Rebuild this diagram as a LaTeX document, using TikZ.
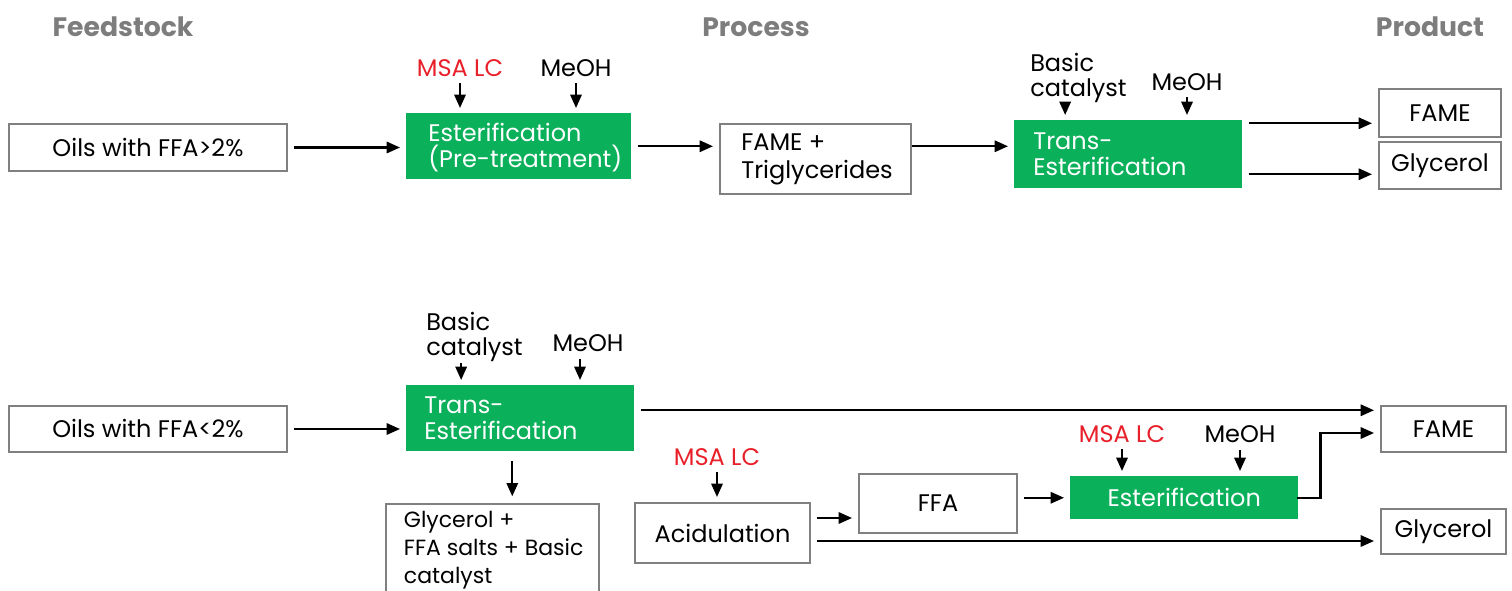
\documentclass[tikz,border=0pt]{standalone}
\usepackage{fontspec}
\setmainfont{Poppins}
\usetikzlibrary{arrows.meta}
\definecolor{procgreen}{RGB}{10,176,90}
\definecolor{msared}{RGB}{232,32,42}
\definecolor{hdrgray}{RGB}{125,125,125}
\definecolor{boxgray}{RGB}{128,128,128}
\tikzset{
  hdr/.style={font=\fontsize{20}{24}\selectfont\bfseries, text=hdrgray, inner sep=0},
  lbl/.style={font=\fontsize{18}{18.5}\selectfont, inner sep=0},
  redlbl/.style={lbl, text=msared},
  wbox/.style={draw=boxgray, line width=1.5pt, fill=white, inner sep=0, anchor=north west,
    font=\fontsize{18}{20.5}\selectfont},
  gbox/.style={fill=procgreen, text=white, inner sep=0, anchor=north west,
    font=\fontsize{18}{19}\selectfont},
  intxt/.style={inner sep=0, anchor=west, align=left, font=\fontsize{18}{19}\selectfont},
  gtxt/.style={intxt, text=white},
  arr/.style={-{Triangle[length=10pt,width=8.5pt]}, line width=1.6pt,
    shorten <=4.5pt, shorten >=4.5pt},
  darr/.style={-{Triangle[length=10pt,width=8.5pt]}, line width=1.6pt,
    shorten <=5pt, shorten >=3.75pt},
}
\begin{document}
\begin{tikzpicture}[x=0.75pt,y=-0.75pt]
\useasboundingbox (0,0) rectangle (1512,591);

% headers
\node[hdr] (hfeed) at (123,27) {Feedstock};
\node[hdr] (hproc) at (756,27) {Process};
\node[hdr] (hprod) at (1430,27) {Product};

% ---------- top row ----------
\node[wbox, minimum width=208.5pt, minimum height=35.25pt] (oilA) at (8,123) {Oils with FFA>2\%};
\node[gbox, minimum width=168.75pt, minimum height=49.5pt] (estA) at (406,113) {};
\node[gtxt] (estAt) at ([xshift=16.5pt,yshift=-1pt]estA.west) {Esterification\\(Pre-treatment)};
\node[wbox, minimum width=143.25pt, minimum height=52.5pt] (fameTri) at (719,123) {};
\node[intxt, font=\fontsize{18}{21}\selectfont] (fameTrit) at ([xshift=16.5pt]fameTri.west) {FAME +\\Triglycerides};
\node[gbox, minimum width=171pt, minimum height=51pt] (transA) at (1014,120) {};
\node[gtxt] (transAt) at ([xshift=14.25pt]transA.west) {Trans-\\Esterification};
\node[wbox, minimum width=91.5pt, minimum height=36pt] (fameA) at (1378,88) {FAME};
\node[wbox, minimum width=91.5pt, minimum height=35.25pt] (glyA) at (1378,141) {Glycerol};

\node[redlbl] (msaA) at (460,68) {MSA LC};
\node[lbl] (meoA) at (576,68) {MeOH};
\node[lbl, align=left, anchor=north west] (bcA) at (1030,53) {Basic\\catalyst};
\node[lbl] (meoA2) at (1187,82) {MeOH};

\draw[darr] (msaA.south) -- (msaA.south |- estA.north);
\draw[darr] (meoA.south) -- (meoA.south |- estA.north);
\draw[darr, shorten <=-1pt] ([xshift=-10pt]bcA.south) -- ([xshift=-10pt]bcA.south |- transA.north);
\draw[darr] (meoA2.south) -- (meoA2.south |- transA.north);

\draw[arr] (oilA.east) -- (oilA.east -| estA.west);
\draw[arr] (estA.east) -- (estA.east -| fameTri.west);
\draw[arr, shorten <=0pt] (fameTri.east |- estA.east) -- (transA.west |- estA.east);
\draw[arr] ([yshift=23.25pt]transA.east) -- ([yshift=23.25pt]transA.east -| fameA.west);
\draw[arr] ([yshift=-15pt]transA.east) -- ([yshift=-15pt]transA.east -| glyA.west);

% ---------- bottom row ----------
\node[wbox, minimum width=208.5pt, minimum height=34.5pt] (oilB) at (8,405) {Oils with FFA<2\%};
\node[gbox, minimum width=171pt, minimum height=49.5pt] (transB) at (406,385) {};
\node[gtxt] (transBt) at ([xshift=13.5pt]transB.west) {Trans-\\Esterification};
\node[lbl, align=left, anchor=north west] (bcB) at (426,312) {Basic\\catalyst};
\node[lbl] (meoB) at (588,343) {MeOH};

\node[wbox, minimum width=159.75pt, minimum height=69pt] (glyB) at (385,503) {};
\node[intxt, font=\fontsize{16.5}{21}\selectfont] (glyBt) at ([xshift=14pt,yshift=-0.5pt]glyB.west)
  {Glycerol +\\FFA salts + Basic\\catalyst};

\node[wbox, minimum width=131.25pt, minimum height=45pt] (acid) at (634,502) {Acidulation};
\node[redlbl] (msaC) at (717,457) {MSA LC};
\node[wbox, minimum width=118.5pt, minimum height=44.25pt] (ffa) at (858,473) {FFA};
\node[gbox, minimum width=171pt, minimum height=32.25pt] (estC) at (1070,476) {Esterification};
\node[redlbl] (msaD) at (1122,434) {MSA LC};
\node[lbl] (meoD) at (1240,434) {MeOH};
\node[wbox, minimum width=93.75pt, minimum height=34.5pt] (fameB) at (1380,405) {FAME};
\node[wbox, minimum width=93.75pt, minimum height=33.75pt] (glyB2) at (1380,508) {Glycerol};

\draw[darr, shorten <=1pt] ([xshift=-10pt]bcB.south) -- ([xshift=-10pt]bcB.south |- transB.north);
\draw[darr] ([xshift=-6pt]meoB.south) -- ([xshift=-6pt]meoB.south |- transB.north);
\draw[darr] (msaC.south) -- (msaC.south |- acid.north);
\draw[darr] (msaD.south) -- (msaD.south |- estC.north);
\draw[darr] (meoD.south) -- (meoD.south |- estC.north);
\draw[arr, shorten <=7pt, shorten >=5pt] ([xshift=-6pt]transB.south) -- ([xshift=-6pt]transB.south |- glyB.north);

\draw[arr] (oilB.east) -- (oilB.east -| transB.west);
\draw[arr] ([yshift=6pt]transB.east) -- ([yshift=6pt]transB.east -| fameB.west);
\draw[arr] ([yshift=11.25pt]acid.east) -- ([yshift=11.25pt]acid.east -| ffa.west);
\draw[arr] (estC.west -| ffa.east) -- (estC.west);
\draw[arr, shorten <=-1.5pt] (estC.east) -- ++(22,0) |- ([yshift=-3pt]fameB.west);
\draw[arr] ([yshift=-6pt]acid.east) -- ([yshift=-6pt]acid.east -| glyB2.west);
\end{tikzpicture}
\end{document}
